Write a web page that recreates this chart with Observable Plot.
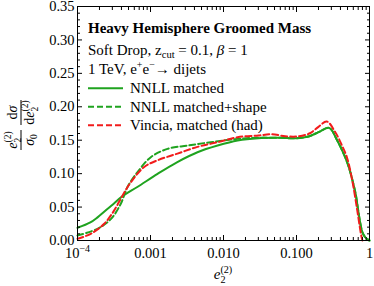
<!DOCTYPE html>
<html><head><meta charset="utf-8">
<script src="https://cdn.jsdelivr.net/npm/d3@7"></script>
<script src="https://cdn.jsdelivr.net/npm/@observablehq/plot@0.6"></script>
<style>body{margin:0;background:#fff} svg{display:block}</style>
</head><body><div id="chart"></div>
<script>
// NNLL matched (green solid)
const nnllX = [1e-4, 1.5e-4, 1.9e-4, 2.9e-4, 4.1e-4, 6.6e-4, 1.25e-3, 2.3e-3, 4.4e-3, 8.3e-3, 0.0156, 0.03, 0.06, 0.1, 0.15, 0.2, 0.28, 0.36, 0.45, 0.52, 0.6, 0.65, 0.7, 0.75, 0.8, 0.87, 0.93, 1.0];
const nnllY = [0.019, 0.027, 0.035, 0.052, 0.066, 0.080, 0.0997, 0.117, 0.132, 0.142, 0.1496, 0.153, 0.1535, 0.153, 0.156, 0.162, 0.1685, 0.150, 0.128, 0.110, 0.085, 0.068, 0.045, 0.025, 0.012, 0.005, 0.002, 0.0];
// NNLL matched+shape (green dashed)
const shapeX = [1e-4, 1.88e-4, 2.86e-4, 3.92e-4, 4.84e-4, 6.6e-4, 1.01e-3, 1.71e-3, 3.2e-3, 6.7e-3, 0.0156, 0.03, 0.06, 0.1, 0.15, 0.2, 0.28, 0.36, 0.45, 0.52, 0.6, 0.65, 0.7, 0.75, 0.8, 0.87, 0.93, 1.0];
const shapeY = [0.0075, 0.0175, 0.032, 0.055, 0.080, 0.102, 0.1246, 0.137, 0.142, 0.147, 0.152, 0.1538, 0.1535, 0.153, 0.156, 0.162, 0.1685, 0.150, 0.128, 0.110, 0.085, 0.068, 0.045, 0.025, 0.012, 0.005, 0.002, 0.0];
// Vincia, matched (had) (red dashed)
const vinciaX = [1e-4, 1.52e-4, 2.32e-4, 3.18e-4, 4.13e-4, 5.37e-4, 8.2e-4, 1.25e-3, 2.34e-3, 4.4e-3, 8.3e-3, 0.0156, 0.03, 0.045, 0.07, 0.1, 0.15, 0.2, 0.26, 0.34, 0.42, 0.49, 0.58, 0.68, 0.77, 0.8];
const vinciaY = [0.0025, 0.010, 0.025, 0.045, 0.067, 0.087, 0.110, 0.120, 0.130, 0.140, 0.147, 0.1545, 0.157, 0.159, 0.156, 0.1555, 0.160, 0.170, 0.178, 0.162, 0.142, 0.1246, 0.090, 0.045, 0.0075, 0.0];

const xMajorTicks = [1e-4, 1e-3, 1e-2, 1e-1, 1];
const xTickLabels = ["10⁻⁴", "0.001", "0.010", "0.100", "1"];
const yMajorTicks = [0, 0.05, 0.10, 0.15, 0.20, 0.25, 0.30, 0.35];
const yTickLabels = ["0.00", "0.05", "0.10", "0.15", "0.20", "0.25", "0.30", "0.35"];
const xMinorTicks = [-4, -3, -2, -1].flatMap(k => [2,3,4,5,6,7,8,9].map(m => m * Math.pow(10, k)));
const yMinorTicks = d3.range(0, 36).filter(i => i % 5).map(i => i / 100);

const legendLabels = ["NNLL matched", "NNLL matched+shape", "Vincia, matched (had)"];
const GREEN = "#1fa31f", RED = "#f21c1c";
const legendColors = [GREEN, GREEN, RED];
const legendDash = [null, "6,3", "6,3"];

const rows = (xs, ys) => xs.map((x, i) => ({x, y: ys[i]}));
const xLab = new Map(xMajorTicks.map((d, i) => [d, xTickLabels[i]]));
const yLab = new Map(yMajorTicks.map((d, i) => [d, yTickLabels[i]]));
const FONT = "'Liberation Serif', 'Times New Roman', serif";

const plot = Plot.plot({
  width: 374, height: 286,
  marginLeft: 77, marginRight: 5, marginTop: 6, marginBottom: 46,
  style: {fontFamily: FONT, fontSize: "14.5px", background: "white", color: "black"},
  x: {type: "log", domain: [1e-4, 1]},
  y: {domain: [0, 0.35]},
  marks: [
    Plot.line(rows(nnllX, nnllY), {x: "x", y: "y", stroke: GREEN, strokeWidth: 2, curve: "catmull-rom"}),
    Plot.line(rows(shapeX, shapeY), {x: "x", y: "y", stroke: GREEN, strokeWidth: 2, strokeDasharray: "6,3", curve: "catmull-rom"}),
    Plot.line(rows(vinciaX, vinciaY), {x: "x", y: "y", stroke: RED, strokeWidth: 2, strokeDasharray: "6,3", curve: "catmull-rom"}),
    Plot.axisX(xMinorTicks, {anchor: "bottom", tickSize: -3, tickFormat: () => "", label: null}),
    Plot.axisX(xMinorTicks, {anchor: "top", tickSize: -3, tickFormat: () => "", label: null}),
    Plot.axisX(xMajorTicks, {anchor: "bottom", tickSize: -5, tickPadding: 12, tickFormat: d => xLab.get(d), label: null}),
    Plot.axisX(xMajorTicks, {anchor: "top", tickSize: -5, tickFormat: () => "", label: null}),
    Plot.axisY(yMinorTicks, {anchor: "left", tickSize: -3, tickFormat: () => "", label: null}),
    Plot.axisY(yMinorTicks, {anchor: "right", tickSize: -3, tickFormat: () => "", label: null}),
    Plot.axisY(yMajorTicks, {anchor: "left", tickSize: -5, tickPadding: 8, tickFormat: d => yLab.get(d), label: null}),
    Plot.axisY(yMajorTicks, {anchor: "right", tickSize: -5, tickFormat: () => "", label: null}),
    Plot.frame({stroke: "black", strokeWidth: 1})
  ]
});
document.getElementById("chart").appendChild(plot);

const svg = d3.select(plot);
// 10^-4 tick label with superscript
svg.selectAll("text").filter(function() { return d3.select(this).text() === "10⁻⁴"; }).each(function() {
  const t = d3.select(this);
  t.text("10");
  t.append("tspan").attr("font-size", 10).attr("dy", -6).text("−4");
});

function appendE2(t, fs) {
  t.append("tspan").attr("font-style", "italic").text("e");
  t.append("tspan").attr("font-size", fs * 0.68).attr("dy", fs * 0.28).text("2");
  t.append("tspan").attr("font-size", fs * 0.68).attr("dx", -fs * 0.34).attr("dy", -fs * 0.68).text("(2)");
  t.append("tspan").attr("dy", fs * 0.4).text("");
}

const g = svg.append("g").attr("font-family", FONT).attr("fill", "black").attr("text-anchor", "start");
// header text
g.append("text").attr("x", 88).attr("y", 32.5).attr("font-size", 15).attr("font-weight", "bold").text("Heavy Hemisphere Groomed Mass");
const t2 = g.append("text").attr("x", 88).attr("y", 54.5).attr("font-size", 15);
t2.append("tspan").text("Soft Drop, z");
t2.append("tspan").attr("font-size", 10.5).attr("dy", 3).text("cut");
t2.append("tspan").attr("dy", -3).text(" = 0.1, ");
t2.append("tspan").attr("font-style", "italic").text("β");
t2.append("tspan").text(" = 1");
const t3 = g.append("text").attr("x", 88).attr("y", 73.5).attr("font-size", 15);
t3.append("tspan").text("1 TeV, e");
t3.append("tspan").attr("font-size", 10).attr("dy", -6).text("+");
t3.append("tspan").attr("dy", 6).text("e");
t3.append("tspan").attr("font-size", 10).attr("dy", -6).text("−");
t3.append("tspan").attr("dy", 6).text("→ dijets");
// legend
legendLabels.forEach((lab, i) => {
  const yy = 88.3 + i * 18.5;
  g.append("line").attr("x1", 88).attr("x2", 123).attr("y1", yy).attr("y2", yy)
    .attr("stroke", legendColors[i]).attr("stroke-width", 2).attr("stroke-dasharray", legendDash[i]);
  g.append("text").attr("x", 130).attr("y", yy + 5).attr("font-size", 15).text(lab);
});
// x label
const xl = g.append("text").attr("x", 223).attr("y", 279).attr("font-size", 15).attr("text-anchor", "middle");
appendE2(xl, 15);
// y label: (e2/σ0)(dσ/de2)
const fa = g.append("g").attr("transform", "translate(21,140) rotate(-90)");
fa.append("line").attr("x1", -10).attr("x2", 10).attr("stroke", "black").attr("stroke-width", 1);
appendE2(fa.append("text").attr("y", -4).attr("font-size", 14).attr("text-anchor", "middle"), 14);
const s0 = fa.append("text").attr("y", 13).attr("font-size", 14).attr("text-anchor", "middle");
s0.append("tspan").attr("font-style", "italic").text("σ");
s0.append("tspan").attr("font-size", 9.5).attr("dy", 3).text("0");
const fb = g.append("g").attr("transform", "translate(21,112.5) rotate(-90)");
fb.append("line").attr("x1", -12.5).attr("x2", 12.5).attr("stroke", "black").attr("stroke-width", 1);
const nd = fb.append("text").attr("y", -4).attr("font-size", 14).attr("text-anchor", "middle");
nd.append("tspan").text("d");
nd.append("tspan").attr("font-style", "italic").text("σ");
const dd = fb.append("text").attr("y", 13).attr("font-size", 14).attr("text-anchor", "middle");
dd.append("tspan").text("d");
appendE2(dd, 14);
</script>
</body></html>
